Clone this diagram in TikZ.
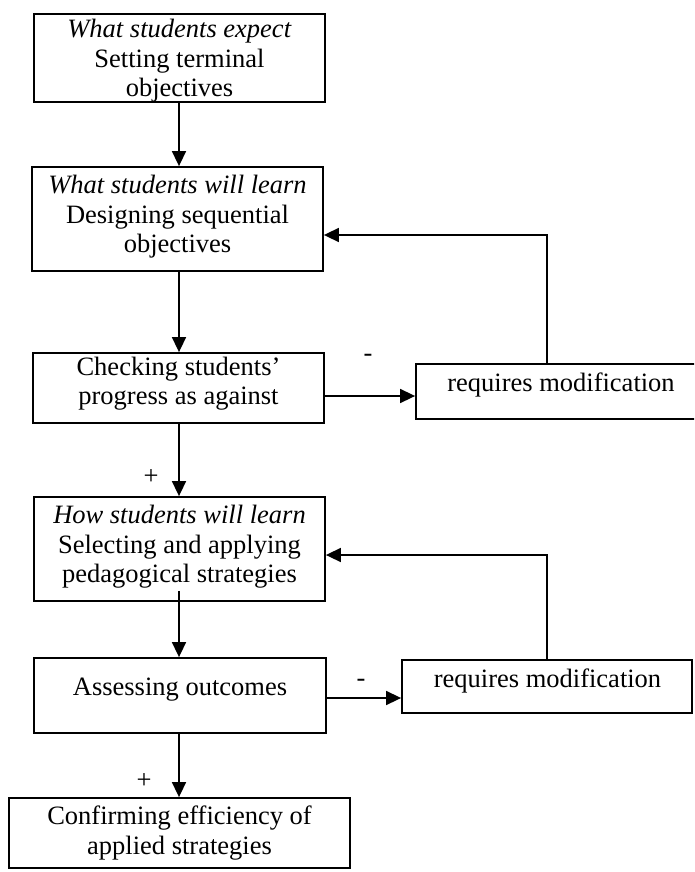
\documentclass[tikz,border=0pt]{standalone}
\usepackage{fontspec}
\setmainfont{Liberation Serif}
\usetikzlibrary{arrows.meta}
\begin{document}
\begin{tikzpicture}[x=1pt,y=-1pt,
  box/.style={draw,line width=1.8pt,inner sep=0pt},
  txt/.style={align=center,inner sep=0pt,font=\fontsize{26.5pt}{29.5pt}\selectfont},
  sign/.style={inner sep=0pt,text height=0.68em,text depth=0.22em,font=\fontsize{26.5pt}{29.5pt}\selectfont},
  arr/.style={line width=1.6pt,-{Triangle[length=15pt,width=14pt]}}
]
\useasboundingbox (0,0) rectangle (694,872);
\clip (0,0) rectangle (694,872);

% main column of boxes
\node[box,minimum width=291pt,minimum height=88pt]  (b1) at (179.5,58)  {};
\node[txt] (t1) at (179.5,61) {\textit{What students expect}\\Setting terminal\\objectives};

\node[box,minimum width=291pt,minimum height=104pt] (b2) at (177.5,219) {};
\node[txt] (t2) at (177.5,217) {\textit{What students will learn}\\Designing sequential\\objectives};

\node[box,minimum width=291pt,minimum height=70pt]  (b3) at (178.5,388) {};
\node[txt] (t3) at (178.5,383.5) {Checking students’\\progress as against};

\node[box,minimum width=291pt,minimum height=104pt] (b5) at (179.5,549) {};
\node[txt] (t5) at (179.5,547) {\textit{How students will learn}\\Selecting and applying\\pedagogical strategies};

\node[box,minimum width=292pt,minimum height=75pt]  (b6) at (180,695.5) {};
\node[txt] (t6) at (180,690) {Assessing outcomes};

\node[box,minimum width=341pt,minimum height=70pt]  (b8) at (179.5,833) {};
\node[txt] (t8) at (179.5,833) {Confirming efficiency of\\applied strategies};

% side boxes
\node[box,minimum width=290pt,minimum height=55pt]  (b4) at (561,391.5) {};
\node[txt] (t4) at (561,385) {requires modification};

\node[box,minimum width=290pt,minimum height=53pt]  (b7) at (547,686.5) {};
\node[txt] (t7) at (547.5,681) {requires modification};

% reference lines for the connectors
\coordinate (spine) at (179,0);
\coordinate (loop) at (547,0);
\coordinate (h1) at (0,396);
\coordinate (h2) at (0,698);
\coordinate (f1) at (0,235);
\coordinate (f2) at (0,555);
\path (b5.south -| spine) ++(0,-11) coordinate (s5);

% downward flow
\draw[arr] (b1.south -| spine) -- (b2.north -| spine);
\draw[arr] (b2.south -| spine) -- (b3.north -| spine);
\draw[arr] (b3.south -| spine) -- (b5.north -| spine);
\draw[arr] (s5) -- (b6.north -| spine);
\draw[arr] (b6.south -| spine) -- (b8.north -| spine);

% branches to modification
\draw[arr] (b3.east |- h1) -- (b4.west |- h1);
\draw[arr] (b6.east |- h2) -- (b7.west |- h2);

% feedback loops
\draw[arr] (b4.north -| loop) |- (b2.east |- f1);
\draw[arr] (b7.north -| loop) |- (b5.east |- f2);

% outcome signs
\node[sign] (m1) at (368,359) {-};
\node[sign] (m2) at (361,684) {-};
\node[sign] (p1) at (151,482) {+};
\node[sign] (p2) at (144,786) {+};
\end{tikzpicture}
\end{document}
